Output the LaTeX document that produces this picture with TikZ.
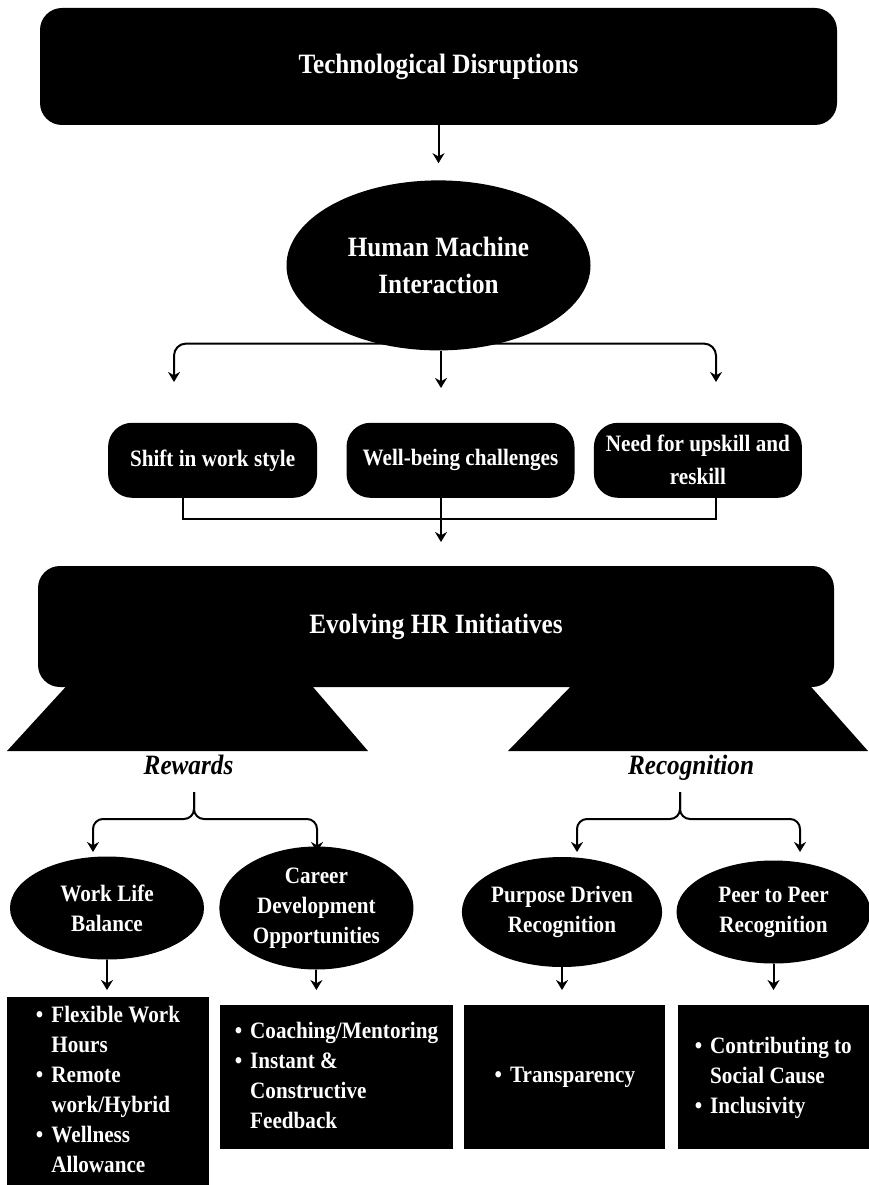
\documentclass[tikz,border=0pt]{standalone}
\usepackage{fontspec}
\setmainfont{Liberation Serif}[FakeStretch=0.9]
\usetikzlibrary{positioning, shapes.geometric, arrows.meta}

\begin{document}
\begin{tikzpicture}[x=1pt, y=-1pt,
>={Stealth[length=10pt,width=12pt]},
headbox/.style={rectangle, rounded corners=22pt, fill=black, text=white, font=\bfseries\fontsize{28}{37}\selectfont, align=center},
midbox/.style={rectangle, rounded corners=24pt, fill=black, text=white, font=\bfseries\fontsize{23.5}{33}\selectfont, align=center, minimum height=75pt},
roundnode/.style={ellipse, fill=black, text=white, font=\bfseries\fontsize{23.5}{30}\selectfont, align=center, inner sep=0pt},
listbox/.style={rectangle, fill=black, text=white, font=\bfseries\fontsize{23.5}{30}\selectfont, inner sep=0pt},
branch/.style={anchor=base, font=\bfseries\itshape\fontsize{28}{34}\selectfont},
arr/.style={->, line width=2pt},
line/.style={line width=2pt},
]
\useasboundingbox (0,0) rectangle (868,1185);

%Nodes
\node[headbox, minimum width=797pt, minimum height=117pt] (TD) at (438.5,66.5) {Technological Disruptions};
\node[roundnode, font=\bfseries\fontsize{28}{37}\selectfont, minimum width=304pt, minimum height=170pt] (HMI) [below=55pt of TD] {Human Machine\\Interaction};
\node[midbox, minimum width=228pt] (WBC) [below=72pt of HMI, xshift=22pt] {Well-being challenges};
\node[midbox, minimum width=209pt] (SWS) [left=29pt of WBC] {Shift in work style};
\node[midbox, minimum width=208pt] (NUR) [right=19pt of WBC] {Need for upskill and\\reskill};

\node[headbox, minimum width=796pt, minimum height=121pt] (EHR) at (436,626.5) {Evolving HR Initiatives};
\fill (72,680) -- (307,680) -- (368,751) -- (7,751) -- cycle;
\fill (577,680) -- (805,680) -- (868,751) -- (508,751) -- cycle;

\node[branch] (rew) at (188.5,774) {Rewards};
\node[branch] (rec) at (691,774) {Recognition};

\node[roundnode, minimum width=194pt, minimum height=103pt] (WLB) at (107,908) {Work Life\\Balance};
\node[roundnode, minimum width=194pt, minimum height=123pt] (CDO) [right=15pt of WLB] {Career\\Development\\Opportunities};
\node[roundnode, minimum width=198pt, minimum height=110pt] (PDR) at (562,912) {Purpose Driven\\Recognition};
\node[roundnode, minimum width=194pt, minimum height=103pt] (PPR) [right=14pt of PDR] {Peer to Peer\\Recognition};

\node[listbox, minimum width=202pt, minimum height=188pt] (FWH) at (108,1091) {%
\begin{tabular}{@{}c@{\hspace{8pt}}l@{}}
\textbullet & Flexible Work\\
 & Hours\\
\textbullet & Remote\\
 & work/Hybrid\\
\textbullet & Wellness\\
 & Allowance
\end{tabular}};
\node[listbox, minimum width=233pt, minimum height=144pt] (CMF) at (336.5,1077) {%
\begin{tabular}{@{}c@{\hspace{8pt}}l@{}}
\textbullet & Coaching/Mentoring\\
\textbullet & Instant \&\\
 & Constructive\\
 & Feedback
\end{tabular}};
\node[listbox, minimum width=201pt, minimum height=144pt] (TRN) [right=11pt of CMF] {\textbullet\hspace{8pt}Transparency};
\node[listbox, minimum width=191pt, minimum height=144pt] (SOC) [right=12pt of TRN] {%
\begin{tabular}{@{}c@{\hspace{8pt}}l@{}}
\textbullet & Contributing to\\
 & Social Cause\\
\textbullet & Inclusivity
\end{tabular}};

%Coordinates
\coordinate (fL) at (174,382);
\coordinate (fC) at (441,388);
\coordinate (fR) at (716,382);
\coordinate (mL) at (183,519);
\coordinate (mR) at (716,519);
\coordinate (mC) at (441,542);
\coordinate (rewTop) at (194,792);
\coordinate (rewL) at (93,852);
\coordinate (rewR) at (317,852);
\coordinate (recTop) at (680,792);
\coordinate (recL) at (577,852);
\coordinate (recR) at (800,852);
\coordinate (lowTip) at (0,990);

%Lines
\draw[arr, shorten >=17pt] (TD) -- (HMI);
\draw[arr, rounded corners=12pt] ([yshift=7pt]HMI.south) -| (fL);
\draw[arr, rounded corners=12pt] ([yshift=7pt]HMI.south) -| (fR);
\draw[arr] (HMI.south -| fC) -- (fC);
\draw[line] (SWS.south -| mL) -- (mL) -- (mR) -- (NUR.south -| mR);
\draw[arr] (WBC.south -| mC) -- (mC);
\draw[arr, rounded corners=10pt] (rewTop) -- ++(0,27) -| (rewL);
\draw[arr, rounded corners=10pt] (rewTop) -- ++(0,27) -| (rewR);
\draw[arr, rounded corners=10pt] (recTop) -- ++(0,27) -| (recL);
\draw[arr, rounded corners=10pt] (recTop) -- ++(0,27) -| (recR);
\draw[arr] (WLB.south) -- (WLB.south |- lowTip);
\draw[arr] (CDO.south) -- (CDO.south |- lowTip);
\draw[arr] (PDR.south) -- (PDR.south |- lowTip);
\draw[arr] (PPR.south) -- (PPR.south |- lowTip);
\end{tikzpicture}
\end{document}
